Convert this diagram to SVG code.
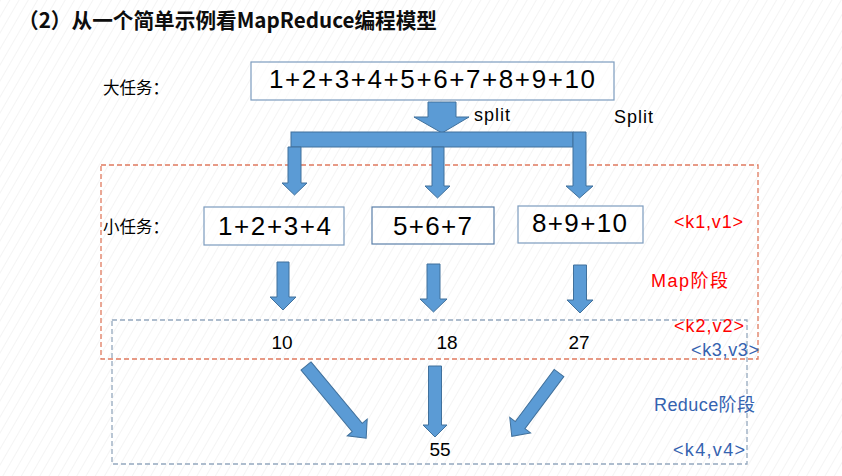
<svg xmlns="http://www.w3.org/2000/svg" width="842" height="476" viewBox="0 0 842 476">
<defs>
<pattern id="hatch" width="8" height="8" patternUnits="userSpaceOnUse" patternTransform="rotate(30)">
<line x1="0" y1="0" x2="0" y2="8" stroke="#EDEDED" stroke-width="1.2"/>
</pattern>
<style>
.lbl{font-family:"Liberation Sans","Noto Sans CJK SC",sans-serif;}
.cjk{font-family:"Noto Sans CJK SC","Liberation Sans",sans-serif;}
.expr{font-family:"Liberation Sans","Noto Sans CJK SC",sans-serif;font-size:26px;fill:#000;}
.num{font-family:"Liberation Sans",sans-serif;font-size:19px;fill:#000;text-anchor:middle;}
.red{fill:#FF0000;font-size:18px;}
.blue{fill:#3563B0;font-size:18px;}
.box{fill:#FFFFFF;fill-opacity:0.6;stroke:#7C9CBE;stroke-width:1.2;}
.arrow{fill:#5B9BD5;stroke:#41719C;stroke-width:1;}
.frame-map{fill:none;stroke:#E07A5F;stroke-width:1.3;stroke-dasharray:5 3;}
.frame-red{fill:none;stroke:#94A8BE;stroke-width:1.3;stroke-dasharray:5 3;}
</style>
</defs>
<rect width="842" height="476" fill="#FFFFFF"/>
<rect width="842" height="476" fill="url(#hatch)"/>

<g id="title">
<text x="18" y="28" class="cjk" font-size="21" font-weight="bold" fill="#0D0D0D" textLength="419" lengthAdjust="spacingAndGlyphs">（2）从一个简单示例看MapReduce编程模型</text>
</g>

<g id="frames">
<rect x="101" y="165" width="657" height="194" class="frame-map"/>
<rect x="112" y="320" width="635" height="144" class="frame-red"/>
</g>

<g id="label-big" class="cjk"><text x="103" y="94" font-size="16.5" fill="#000">大任务：</text></g>
<g id="label-small" class="cjk"><text x="103" y="233" font-size="16.5" fill="#000">小任务：</text></g>

<g id="big-task">
<rect x="251" y="62" width="363" height="38" class="box"/>
<text x="269" y="88" class="expr" textLength="326" lengthAdjust="spacing">1+2+3+4+5+6+7+8+9+10</text>
</g>

<g id="task1">
<rect x="204" y="207" width="140" height="38" class="box"/>
<text x="218" y="235" class="expr" textLength="113" lengthAdjust="spacing">1+2+3+4</text>
</g>
<g id="task2">
<rect x="372" y="207" width="122" height="37" class="box" style="stroke:#5A7FA8"/>
<text x="393" y="235" class="expr" textLength="79" lengthAdjust="spacing">5+6+7</text>
</g>
<g id="task3">
<rect x="518" y="206" width="125" height="37" class="box"/>
<text x="532" y="232" class="expr" textLength="95" lengthAdjust="spacing">8+9+10</text>
</g>

<g id="result10"><text x="282" y="349" class="num">10</text></g>
<g id="result18"><text x="447" y="349" class="num">18</text></g>
<g id="result27"><text x="579" y="349" class="num">27</text></g>
<g id="result55"><text x="440" y="456" class="num">55</text></g>

<g id="labels" class="lbl">
<text x="474" y="121" font-size="18" fill="#000" textLength="36">split</text>
<text x="614" y="123" font-size="18" fill="#000" textLength="39">Split</text>
<text x="674" y="228" class="red" textLength="69">&lt;k1,v1&gt;</text>
<text x="651" y="287" class="red" textLength="77">Map阶段</text>
<text x="674" y="332" class="red" textLength="70">&lt;k2,v2&gt;</text>
<text x="691" y="356" class="blue" textLength="68">&lt;k3,v3&gt;</text>
<text x="654" y="411" class="blue" textLength="101">Reduce阶段</text>
<text x="673" y="456" class="blue" textLength="72">&lt;k4,v4&gt;</text>
</g>

<g id="connectors">
<polygon class="arrow" points="428,102 456,102 456,117 469,117 442,133 414,117 428,117"/>
<rect class="arrow" x="291" y="132" width="282" height="15"/>
<polygon class="arrow" points="288,147 301,147 301,183 307,183 294.5,195 282,183 288,183"/>
<polygon class="arrow" points="432,147 444,147 444,186 450,186 437.5,198 425,186 432,186"/>
<polygon class="arrow" points="573,132 586,132 586,186 593,186 579.5,198 566,186 573,186"/>

<polygon class="arrow" points="277,262 289,262 289,297 296,297 283,310 270,297 277,297"/>
<polygon class="arrow" points="427,264 440,264 440,299 447,299 433.5,312 420,299 427,299"/>
<polygon class="arrow" points="573.5,265 586.5,265 586.5,300 593,300 580,313 567,300 573.5,300"/>

<polygon class="arrow" transform="translate(306,366) rotate(50.2)" points="0,-6.5 80,-6.5 80,-13 94,0 80,13 80,6.5 0,6.5"/>
<polygon class="arrow" points="428.5,366 441.5,366 441.5,425 447,425 435,437 423,425 428.5,425"/>
<polygon class="arrow" transform="translate(559,373) rotate(126.7)" points="0,-6 65,-6 65,-13 79,0 65,13 65,6 0,6"/>
</g>
</svg>
